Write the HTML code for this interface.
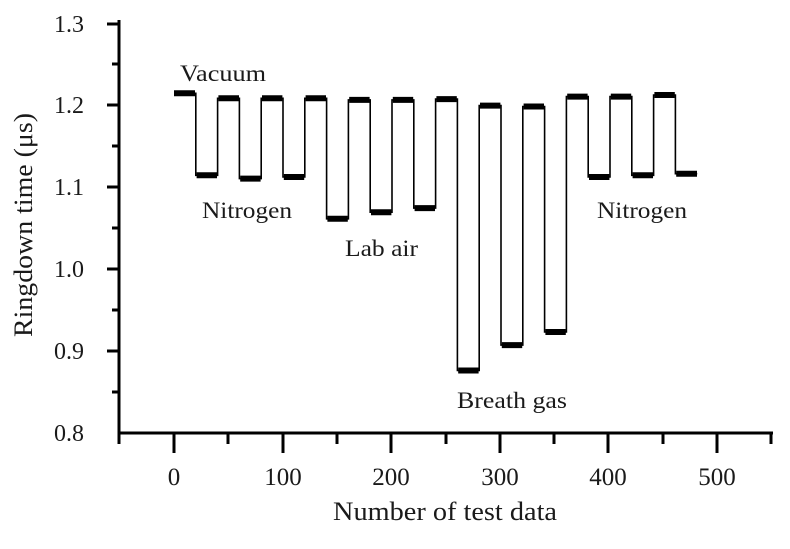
<!DOCTYPE html>
<html><head><meta charset="utf-8"><style>
body{margin:0;background:#fff}
svg text{font-family:"Liberation Serif",serif;fill:#1a1a1a}
</style></head><body>
<svg width="790" height="544" viewBox="0 0 790 544" xmlns="http://www.w3.org/2000/svg">
<g stroke="#000" stroke-width="3" fill="none">
<line x1="119" y1="20" x2="119" y2="434"/>
<line x1="118" y1="433" x2="773" y2="433"/>
<line x1="107" y1="24" x2="119" y2="24"/>
<line x1="107" y1="105" x2="119" y2="105"/>
<line x1="107" y1="187" x2="119" y2="187"/>
<line x1="107" y1="269" x2="119" y2="269"/>
<line x1="107" y1="351" x2="119" y2="351"/>
<line x1="112" y1="64" x2="119" y2="64"/>
<line x1="112" y1="146" x2="119" y2="146"/>
<line x1="112" y1="228" x2="119" y2="228"/>
<line x1="112" y1="310" x2="119" y2="310"/>
<line x1="112" y1="392" x2="119" y2="392"/>
<line x1="174" y1="433" x2="174" y2="453"/>
<line x1="283" y1="433" x2="283" y2="453"/>
<line x1="391" y1="433" x2="391" y2="453"/>
<line x1="500" y1="433" x2="500" y2="453"/>
<line x1="608" y1="433" x2="608" y2="453"/>
<line x1="717" y1="433" x2="717" y2="453"/>
<line x1="119" y1="433" x2="119" y2="444"/>
<line x1="228" y1="433" x2="228" y2="444"/>
<line x1="337" y1="433" x2="337" y2="444"/>
<line x1="446" y1="433" x2="446" y2="444"/>
<line x1="554" y1="433" x2="554" y2="444"/>
<line x1="663" y1="433" x2="663" y2="444"/>
<line x1="771" y1="433" x2="771" y2="444"/>
</g>
<g font-size="24" text-anchor="end">
<text x="84" y="32">1.3</text><text x="84" y="113">1.2</text><text x="84" y="195">1.1</text>
<text x="84" y="277">1.0</text><text x="84" y="359">0.9</text><text x="84" y="441">0.8</text>
</g>
<g font-size="25" text-anchor="middle">
<text x="174" y="485">0</text><text x="283" y="485">100</text><text x="391" y="485">200</text>
<text x="500" y="485">300</text><text x="608" y="485">400</text><text x="717" y="485">500</text>
</g>
<text x="333" y="520" font-size="26" textLength="224" lengthAdjust="spacingAndGlyphs">Number of test data</text>
<text transform="translate(32,337) rotate(-90)" font-size="26" textLength="224" lengthAdjust="spacingAndGlyphs">Ringdown time (μs)</text>
<path fill="none" stroke="#000" stroke-width="1.6" d="M174,93.3 H195.8 V175.3 H217.6 V98.3 H239.4 V178.6 H261.2 V98.3 H283 V177 H304.8 V98.3 H326.6 V218.8 H348.4 V99.9 H370.2 V212.2 H392 V99.9 H413.8 V208.1 H435.6 V99.1 H457.4 V370.5 H479.2 V105.6 H501 V345.1 H522.8 V106.5 H544.6 V332 H566.4 V96.6 H588.2 V177 H610 V96.6 H631.8 V175.3 H653.6 V95 H675.4 V173.7 H697.2"/>
<path fill="none" stroke="#000" stroke-width="6" d="M174,93.3H195 M196.6,175.3H217 M218.4,98.3H239 M240.2,178.6H260.6 M262,98.3H282.4 M283.8,177H304.2 M305.6,98.3H326 M327.4,218.8H347.8 M349.2,99.9H369.6 M371,212.2H391.4 M392.8,99.9H413.2 M414.6,208.1H435 M436.4,99.1H456.8 M458.2,370.5H478.6 M480,105.6H500.4 M501.8,345.1H522.2 M523.6,106.5H544 M545.4,332H565.8 M567.2,96.6H587.6 M589,177H609.4 M610.8,96.6H631.2 M632.6,175.3H653 M654.4,95H674.8 M676.2,173.7H697"/>
<g font-size="23">
<text x="180" y="81" textLength="86" lengthAdjust="spacingAndGlyphs">Vacuum</text>
<text x="202" y="218" textLength="90" lengthAdjust="spacingAndGlyphs">Nitrogen</text>
<text x="345" y="256" textLength="73" lengthAdjust="spacingAndGlyphs">Lab air</text>
<text x="457" y="408" textLength="110" lengthAdjust="spacingAndGlyphs">Breath gas</text>
<text x="597" y="218" textLength="90" lengthAdjust="spacingAndGlyphs">Nitrogen</text>
</g>
</svg>
</body></html>
